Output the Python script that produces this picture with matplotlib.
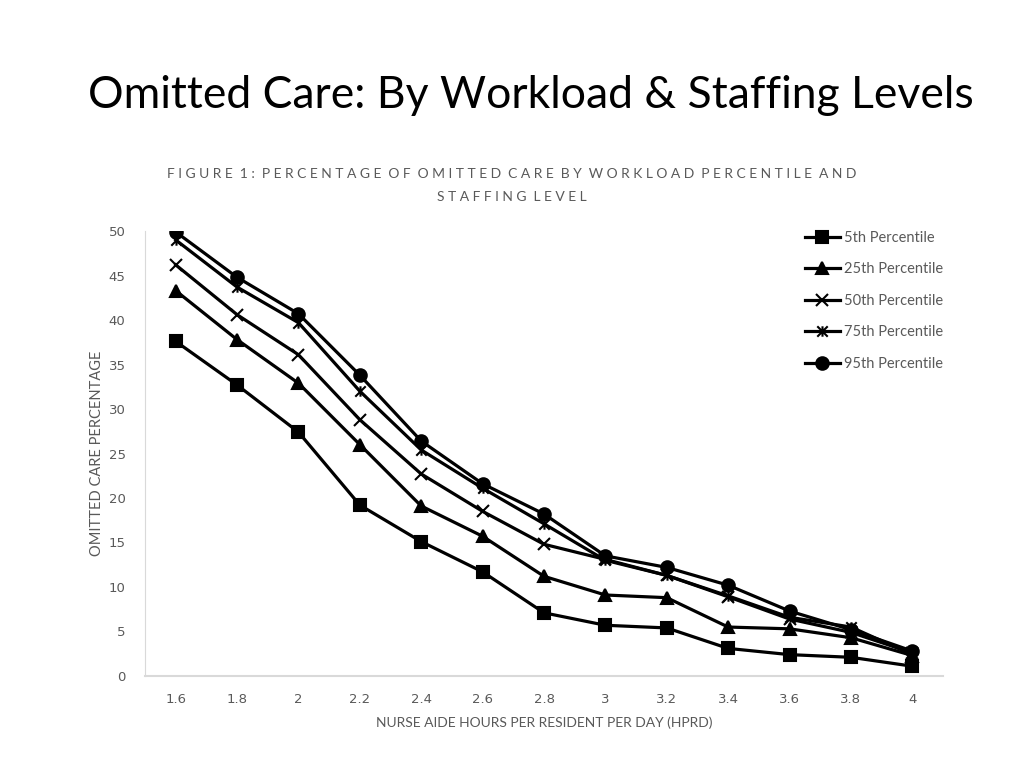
import matplotlib
matplotlib.use('Agg')
import matplotlib.pyplot as plt
from matplotlib.path import Path

hprd = [1.6, 1.8, 2.0, 2.2, 2.4, 2.6, 2.8, 3.0, 3.2, 3.4, 3.6, 3.8, 4.0]
hprd_labels = ['1.6', '1.8', '2', '2.2', '2.4', '2.6', '2.8', '3', '3.2', '3.4', '3.6', '3.8', '4']

p5 = [37.6, 32.7, 27.4, 19.2, 15.1, 11.7, 7.1, 5.7, 5.4, 3.1, 2.4, 2.1, 1.1]
p25 = [43.3, 37.8, 32.9, 26.0, 19.1, 15.7, 11.2, 9.1, 8.8, 5.5, 5.3, 4.3, 2.3]
p50 = [46.2, 40.6, 36.1, 28.8, 22.7, 18.5, 14.8, 13.1, 11.3, 8.9, 6.4, 4.9, 2.6]
p75 = [49.0, 43.7, 39.7, 32.0, 25.4, 21.1, 17.1, 13.0, 11.3, 9.0, 6.6, 5.5, 2.4]
p95 = [49.9, 44.8, 40.7, 33.8, 26.4, 21.6, 18.2, 13.5, 12.2, 10.2, 7.3, 5.2, 2.8]

# excel style star: an x with a vertical bar through it
star = Path([(-1, -1), (1, 1), (-1, 1), (1, -1), (0, -1), (0, 1)],
            [Path.MOVETO, Path.LINETO, Path.MOVETO, Path.LINETO, Path.MOVETO, Path.LINETO])

series = [
    ('5th Percentile', p5, 's', 8.5),
    ('25th Percentile', p25, '^', 8.5),
    ('50th Percentile', p50, 'x', 8),
    ('75th Percentile', p75, star, 7.5),
    ('95th Percentile', p95, 'o', 9),
]

plt.rcParams['font.family'] = ['Lato', 'DejaVu Sans']
gray = '#595959'

fig = plt.figure(figsize=(10.24, 7.68), dpi=100)
ax = fig.add_axes([0.1416, 0.1198, 0.7793, 0.5794])

for name, vals, mk, ms in series:
    ax.plot(hprd, vals, color='black', linewidth=2.3, marker=mk, markersize=ms,
            markeredgewidth=1.5, label=name)

ax.set_xlim(1.5, 4.1)
ax.set_ylim(0, 50)
ax.set_xticks(hprd)
ax.set_xticklabels(hprd_labels)
ax.set_yticks(range(0, 51, 5))
ax.tick_params(length=0, colors=gray)
ax.tick_params(axis='x', pad=12)
ax.tick_params(axis='y', pad=14)
for lab in ax.get_xticklabels() + ax.get_yticklabels():
    lab.set_fontfamily('DejaVu Sans')
    lab.set_fontsize(9.5)
for s in ['top', 'right']:
    ax.spines[s].set_visible(False)
ax.spines['left'].set_color('#d9d9d9')
ax.spines['bottom'].set_color('#d9d9d9')
ax.spines['bottom'].set_linewidth(1.5)

ax.set_xlabel('NURSE AIDE HOURS PER RESIDENT PER DAY (HPRD)', color=gray, fontsize=10, labelpad=8)
ax.set_ylabel('OMITTED CARE PERCENTAGE', color=gray, fontsize=10.5, labelpad=3)

leg = ax.legend(loc='upper left', bbox_to_anchor=(0.81, 1.03), frameon=False,
                handlelength=2.4, handletextpad=0.3, labelspacing=1.2, fontsize=10.5)
for t in leg.get_texts():
    t.set_color(gray)

fig.text(0.518, 0.876, 'Omitted Care: By Workload & Staffing Levels', ha='center', va='center',
         fontsize=32, color='black')
fig.text(0.5, 0.773, 'F I G U R E  1 :  P E R C E N T A G E  O F  O M I T T E D  C A R E  B Y  W O R K L O A D  P E R C E N T I L E  A N D',
         ha='center', va='center', fontsize=10, color=gray)
fig.text(0.5, 0.744, 'S T A F F I N G  L E V E L', ha='center', va='center', fontsize=10, color=gray)

fig.savefig('out.png', dpi=100)
